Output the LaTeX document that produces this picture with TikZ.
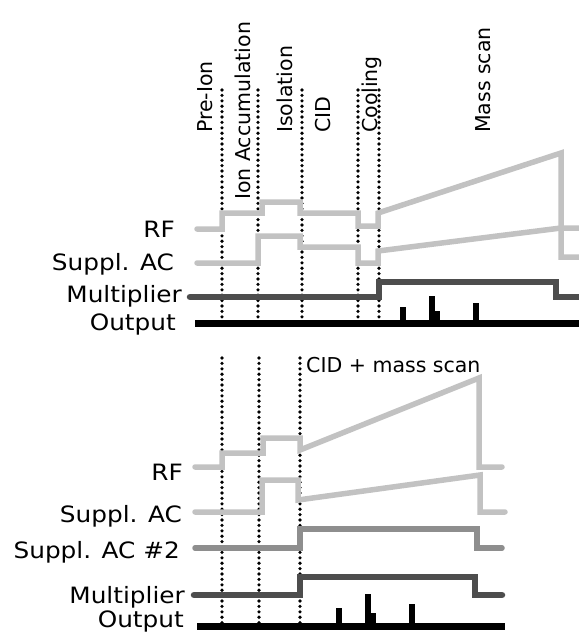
\documentclass[tikz,border=0pt]{standalone}
\usepackage{fontspec}
\setmainfont{DejaVu Sans}
\newfontfamily\widefont[FakeStretch=1.1]{DejaVu Sans}
\usepackage{tikz}
\definecolor{lightsig}{HTML}{C2C2C2}
\definecolor{midsig}{HTML}{8E8E8E}
\definecolor{darksig}{HTML}{4D4D4D}

\begin{document}
\begin{tikzpicture}[
 x=1pt,y=-1pt,
 lbl/.style={anchor=base east,inner sep=0pt,font=\widefont\fontsize{22.5}{27}\selectfont},
 phase/.style={anchor=base west,inner sep=0pt,rotate=90,font=\fontsize{20.5}{24}\selectfont},
 sig/.style={line width=5.5pt,line cap=round},
 rfsig/.style={sig,draw=lightsig},
 acsig/.style={sig,draw=lightsig},
 actwosig/.style={sig,draw=midsig},
 multsig/.style={sig,line width=6.5pt,draw=darksig},
 outsig/.style={line width=7pt,draw=black},
 peak/.style={line width=6pt,draw=black},
 marker/.style={line width=3.6pt,line cap=round,dash pattern=on 0pt off 5.4pt}]
\useasboundingbox (0,0) rectangle (579,633);
% upper sequence: labels
\node[lbl] (rf) at (175,237) {RF};
\node[lbl] (suppl) at (174,270) {Suppl. AC};
\node[lbl] (mult) at (182,302) {Multiplier};
\node[lbl] (out) at (176,330) {Output};
\node[phase] (preion) at (212,133) {Pre-Ion};
\node[phase] (ionacc) at (250,200) {Ion Accumulation};
\node[phase] (isol) at (292,133) {Isolation};
\node[phase] (cid) at (330,133) {CID};
\node[phase] (cool) at (377,133) {Cooling};
\node[phase] (massscan) at (490,133) {Mass scan};
% upper sequence: phase borders
\draw[marker] (222,90) -- (222,325);
\draw[marker] (258,90) -- (258,325);
\draw[marker] (302,90) -- (302,325);
\draw[marker] (358,90) -- (358,325);
\draw[marker] (379,90) -- (379,325);
% upper sequence: traces
\draw[rfsig] (197,229) -- (222,229) -- (222,213) -- (262,213) -- (262,202) -- (300,202) -- (300,213)
 -- (358,213) -- (358,226) -- (378,226) -- (378,213) -- (561,153) -- (561,257) -- (581,257);
\draw[acsig] (197,263) -- (258,263) -- (258,236) -- (300,236) -- (300,247) -- (358,247) -- (358,263)
 -- (378,263) -- (378,251) -- (561,228) -- (581,228);
\draw[multsig] (190,297) -- (379,297) -- (379,282) -- (556,282) -- (556,297) -- (581,297);
\draw[outsig] (195,323) -- (581,323);
\draw[peak] (403,323) -- (403,307);
\draw[peak] (432,323) -- (432,296);
\draw[peak] (437,323) -- (437,311);
\draw[peak] (476,323) -- (476,303);
% lower sequence: labels
\node[lbl] (rfb) at (183,480) {RF};
\node[lbl] (supplb) at (182,522) {Suppl. AC};
\node[lbl] (suppltwo) at (180,558) {Suppl. AC \#2};
\node[lbl] (multb) at (185,603) {Multiplier};
\node[lbl] (outb) at (184,627) {Output};
\node[anchor=base west,inner sep=0pt,font=\fontsize{20.5}{24}\selectfont] (cidscan) at (306,372) {CID + mass scan};
% lower sequence: phase borders
\draw[marker] (222,358) -- (222,623);
\draw[marker] (259,358) -- (259,623);
\draw[marker] (300,358) -- (300,623);
% lower sequence: traces
\draw[rfsig] (195,467) -- (222,467) -- (222,453) -- (263,453) -- (263,438) -- (300,438) -- (300,450)
 -- (479,378) -- (479,467) -- (502,467);
\draw[acsig] (195,512) -- (262,512) -- (262,480) -- (298,480) -- (298,500) -- (480,475) -- (480,512) -- (505,512);
\draw[actwosig] (195,548) -- (300,548) -- (300,529) -- (477,529) -- (477,548) -- (502,548);
\draw[multsig] (194,595) -- (300,595) -- (300,577) -- (475,577) -- (475,595) -- (502,595);
\draw[outsig] (197,626) -- (505,626);
\draw[peak] (339,626) -- (339,608);
\draw[peak] (368,626) -- (368,594);
\draw[peak] (373,626) -- (373,613);
\draw[peak] (412,626) -- (412,604);
\end{tikzpicture}
\end{document}
